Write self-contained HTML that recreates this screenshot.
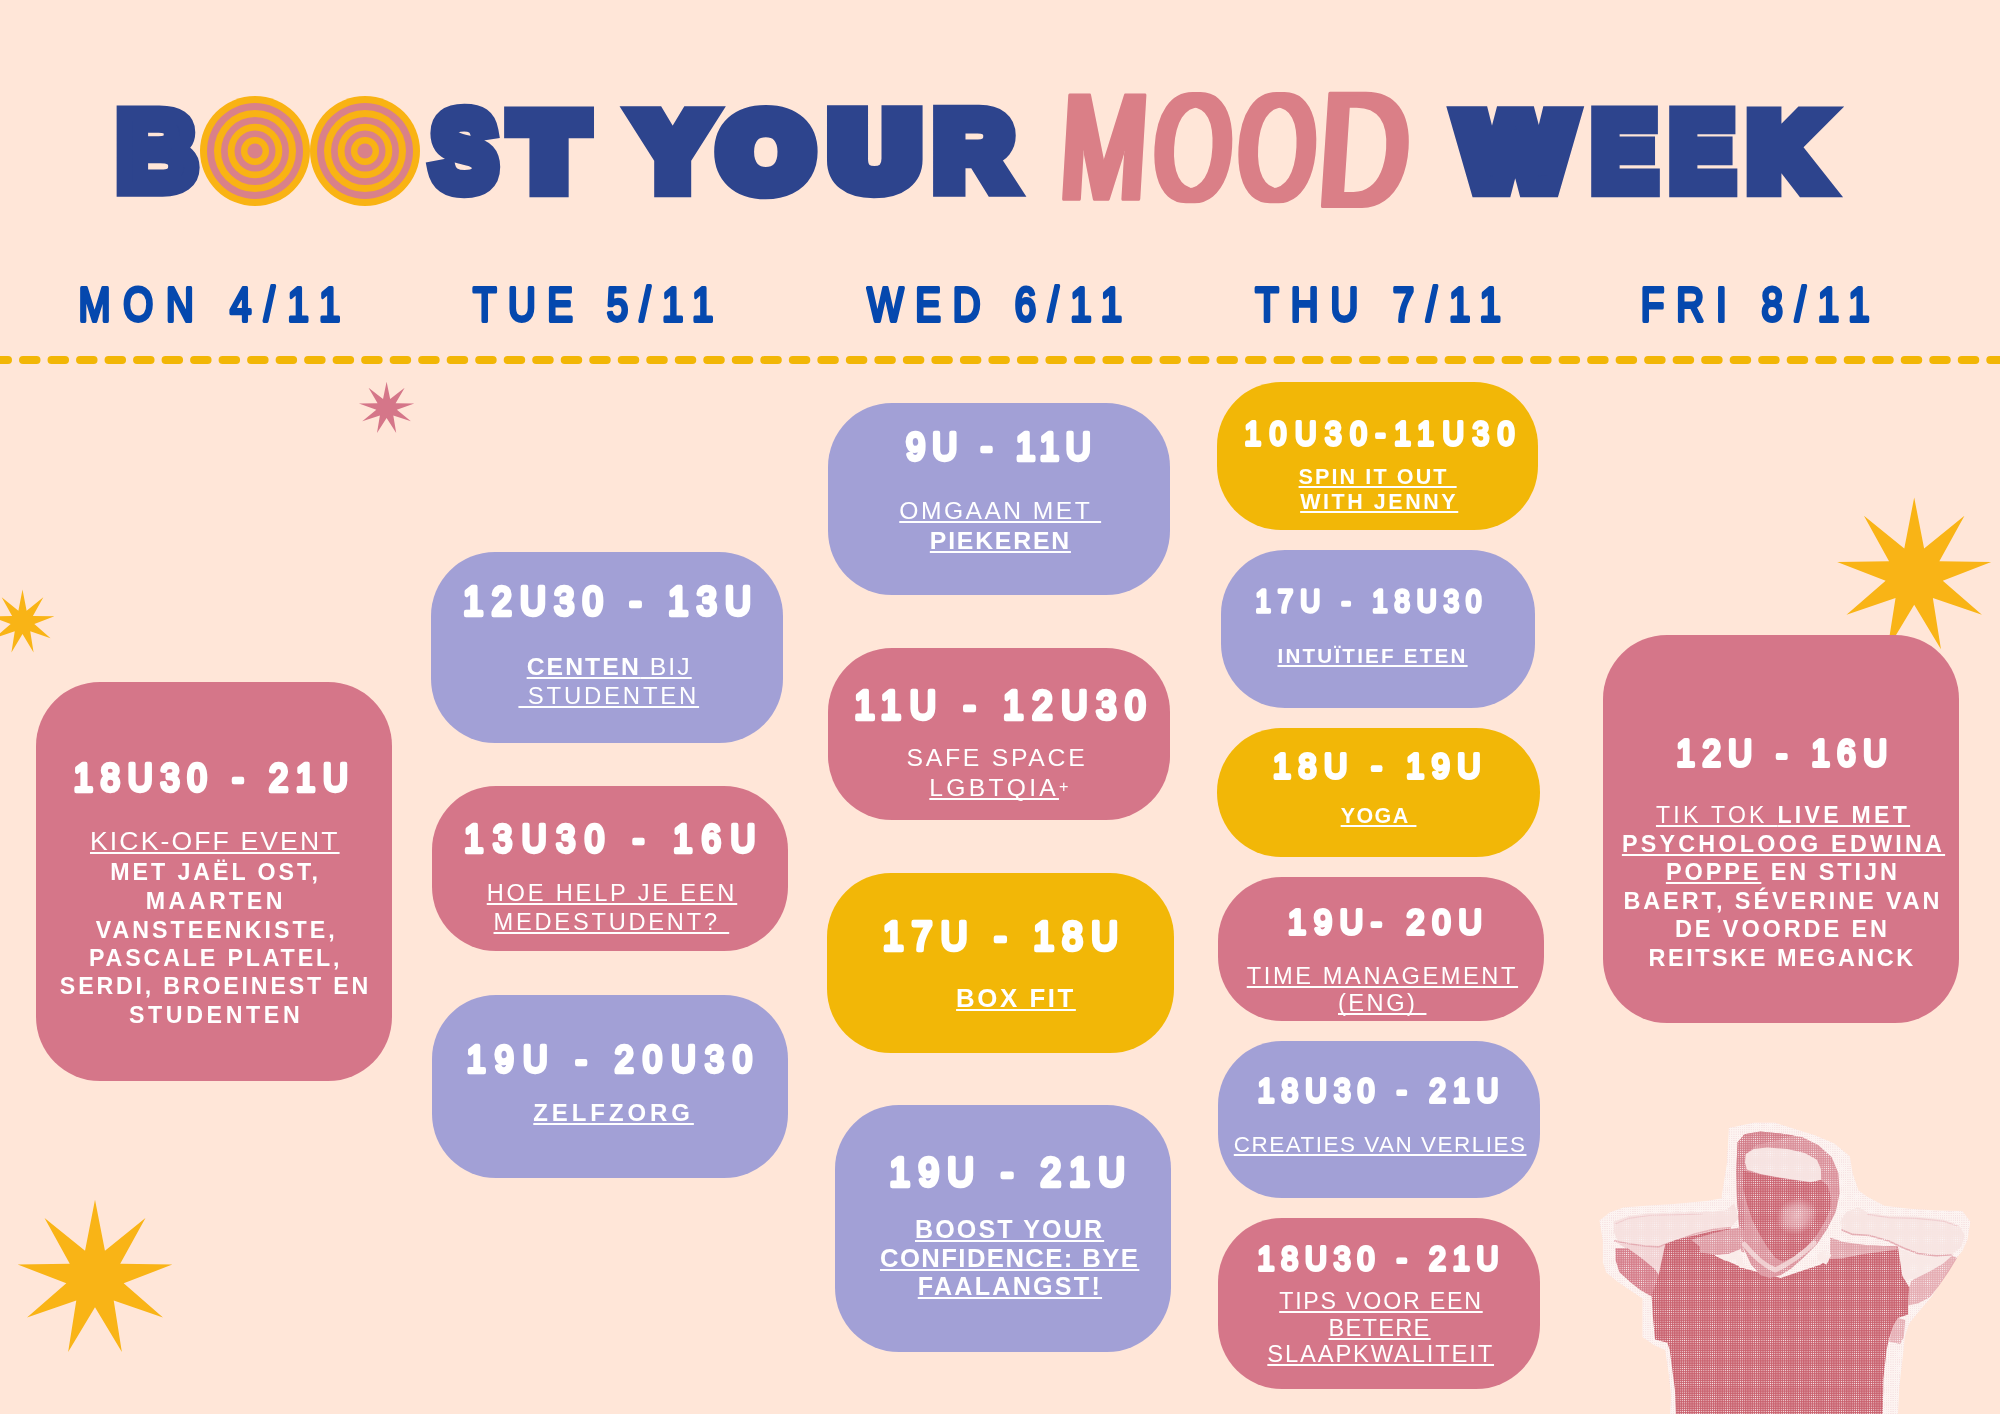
<!DOCTYPE html>
<html lang="nl"><head><meta charset="utf-8"><title>Boost Your Mood Week</title>
<style>
html,body{margin:0;padding:0}
body{width:2000px;height:1414px;overflow:hidden;background:#FFE6D8;font-family:'Liberation Sans',Arial,Helvetica,sans-serif}
#page{position:relative;width:2000px;height:1414px;overflow:hidden;background:#FFE6D8;opacity:.999}
svg.decor,svg.photo,svg.title,svg.days,svg.time{position:absolute;left:0;top:0;overflow:visible}
svg.time text{font-family:'Liberation Sans',Arial,sans-serif;font-weight:normal;fill:#fff;stroke:#fff;stroke-linejoin:round;stroke-linecap:round}
.card{position:absolute;margin:0;color:#fff}
.pink{background:#D57689}.purple{background:#A2A0D6}.yellow{background:#F2B707}
.ln{position:absolute;white-space:pre;line-height:1;font-weight:normal}
.ln b{font-weight:bold}
.ln u{text-decoration:underline;text-decoration-thickness:1.6px;text-underline-offset:2.4px;text-decoration-skip-ink:none}
</style></head><body>
<div id="page">
<svg class="decor" width="2000" height="1414" viewBox="0 0 2000 1414">
<line x1="-5.5" y1="360" x2="2010" y2="360" stroke="#F2B606" stroke-width="8" stroke-linecap="round" stroke-dasharray="13.5 15.011"/>
<polygon fill="#F9B416" points="1914.2,497.5 1924.12,548.44 1964.47,515.8 1939.33,561.19 1991.21,562.12 1942.77,580.74 1981.92,614.8 1932.85,597.92 1940.95,649.18 1914.2,604.71 1887.45,649.18 1895.55,597.92 1846.48,614.8 1885.63,580.74 1837.19,562.12 1889.07,561.19 1863.93,515.8 1904.28,548.44"/>
<polygon fill="#F9B416" points="95,1199.7 104.96,1250.83 145.46,1218.07 120.22,1263.64 172.31,1264.57 123.68,1283.26 162.98,1317.45 113.72,1300.51 121.85,1351.97 95,1307.32 68.15,1351.97 76.28,1300.51 27.02,1317.45 66.32,1283.26 17.69,1264.57 69.78,1263.64 44.54,1218.07 85.04,1250.83"/>
<polygon fill="#F9B416" points="22.5,589.6 26.61,610.7 43.33,597.18 32.91,615.99 54.41,616.37 34.34,624.09 50.56,638.2 30.23,631.21 33.58,652.45 22.5,634.02 11.42,652.45 14.77,631.21 -5.56,638.2 10.66,624.09 -9.41,616.37 12.09,615.99 1.67,597.18 18.39,610.7"/>
<polygon fill="#D57689" points="386.6,381.69 390.17,398.89 404.66,387.87 395.63,403.2 414.27,403.51 396.87,409.8 410.94,421.31 393.3,415.61 396.21,432.92 386.6,417.9 376.99,432.92 379.9,415.61 362.26,421.31 376.33,409.8 358.93,403.51 377.57,403.2 368.54,387.87 383.03,398.89"/>
</svg>
<svg class="title" width="2000" height="260" viewBox="0 0 2000 260" role="heading" aria-level="1" aria-label="BOOST YOUR MOOD WEEK">
<defs><filter id="brush" filterUnits="userSpaceOnUse" x="1040" y="70" width="400" height="160"><feMorphology operator="dilate" radius="4.2 0"/></filter></defs>
<g font-family="Liberation Sans, Arial, sans-serif" font-weight="bold" font-size="100" fill="#2D448D" stroke="#2D448D" stroke-linejoin="miter" stroke-miterlimit="3"><text transform="translate(117,189.33) scale(1.1067,1.0964)" stroke-width="14">B</text><text x="216" y="187" fill="#F9B313" stroke="none">O</text><text x="326" y="187" fill="#F9B313" stroke="none">O</text><text transform="translate(431.84,189.25) scale(0.9737,1.0941)" stroke-width="15">S</text><text transform="translate(514.25,186.78) scale(1.1392,1.0225)" stroke-width="20">T</text></g> <g font-family="Liberation Sans, Arial, sans-serif" font-weight="bold" font-size="100" fill="#2D448D" stroke="#2D448D" stroke-linejoin="miter" stroke-miterlimit="3"><text transform="translate(636.72,186.78) scale(1.0765,1.0225)" stroke-width="20">Y</text><text transform="translate(720.93,187.64) scale(1.1556,1.0330)" stroke-width="20">O</text><text transform="translate(831.77,187.37) scale(1.1938,1.0300)" stroke-width="20">U</text><text transform="translate(934.1,189.33) scale(1.1012,1.0964)" stroke-width="15">R</text></g> <g font-family="Liberation Sans, Arial, sans-serif" font-weight="normal" font-size="100" fill="#DA7F87" stroke="#DA7F87" stroke-width="2.3" stroke-linejoin="round" filter="url(#brush)"><text transform="translate(1058.9,199.49) scale(1.0134,1.5070) skewX(-5)">M</text><text transform="translate(1152.09,199.96) scale(0.9858,1.5205) skewX(-5)">O</text><text transform="translate(1236.09,199.96) scale(0.9858,1.5205) skewX(-5)">O</text><text transform="translate(1316.33,206.37) scale(1.2322,1.6338) skewX(-5)">D</text></g> <g font-family="Liberation Sans, Arial, sans-serif" font-weight="bold" font-size="100" fill="#2D448D" stroke="#2D448D" stroke-linejoin="miter" stroke-miterlimit="3"><text transform="translate(1460.95,186.78) scale(1.1500,1.0225)" stroke-width="20">W</text><text transform="translate(1591.96,189.33) scale(0.9648,1.0964)" stroke-width="15">E</text><text transform="translate(1669.96,189.33) scale(0.9577,1.0964)" stroke-width="15">E</text><text transform="translate(1750.03,186.78) scale(1.0104,1.0225)" stroke-width="20">K</text></g>
</svg>
<svg class="decor" width="2000" height="1414" viewBox="0 0 2000 1414">
<circle cx="255" cy="151" r="55" fill="#F9B313"/>
<circle cx="255" cy="151" r="48" fill="#D98189"/>
<circle cx="255" cy="151" r="41" fill="#F9B313"/>
<circle cx="255" cy="151" r="34" fill="#D98189"/>
<circle cx="255" cy="151" r="27.3" fill="#F9B313"/>
<circle cx="255" cy="151" r="20.5" fill="#D98189"/>
<circle cx="255" cy="151" r="14" fill="#F9B313"/>
<circle cx="255" cy="151" r="7.6" fill="#D98189"/>
<circle cx="365" cy="151" r="55" fill="#F9B313"/>
<circle cx="365" cy="151" r="48" fill="#D98189"/>
<circle cx="365" cy="151" r="41" fill="#F9B313"/>
<circle cx="365" cy="151" r="34" fill="#D98189"/>
<circle cx="365" cy="151" r="27.3" fill="#F9B313"/>
<circle cx="365" cy="151" r="20.5" fill="#D98189"/>
<circle cx="365" cy="151" r="14" fill="#F9B313"/>
<circle cx="365" cy="151" r="7.6" fill="#D98189"/>
</svg>
<svg class="days" width="2000" height="350" viewBox="0 0 2000 350">
<g font-family="Liberation Sans, Arial, sans-serif" font-weight="normal" fill="#0548AE" stroke="#0548AE" stroke-linejoin="round" stroke-linecap="round">
<text transform="translate(78.4,320.5) scale(0.8,1)" font-size="48.05" stroke-width="3.75" letter-spacing="16">MON 4/11</text>
<text transform="translate(472.9,320.5) scale(0.8,1)" font-size="48.05" stroke-width="3.75" letter-spacing="14.46">TUE 5/11</text>
<text transform="translate(867.25,320.5) scale(0.8,1)" font-size="48.05" stroke-width="3.75" letter-spacing="14.73">WED 6/11</text>
<text transform="translate(1255.2,320.5) scale(0.8,1)" font-size="48.05" stroke-width="3.75" letter-spacing="15">THU 7/11</text>
<text transform="translate(1640.7,320.5) scale(0.8,1)" font-size="48.05" stroke-width="3.75" letter-spacing="15.07">FRI 8/11</text>
</g></svg>
<section class="card pink" id="mon" style="left:35.8px;top:681.6px;width:356.2px;height:399px;border-radius:64px">
<svg class="time" width="356.2" height="399"><text transform="translate(37.65,109.4) scale(0.9,1)" font-size="38.27" stroke-width="4.4" letter-spacing="8.79">18U30 - 21U</text></svg>
<div class="ln" style="left:54.2px;top:146.55px;font-size:26.52px;letter-spacing:2.15px"><u>KICK-OFF EVENT</u></div>
<div class="ln" style="left:74.45px;top:179.9px;font-size:23.19px;letter-spacing:2.96px"><b>MET JAËL OST,</b></div>
<div class="ln" style="left:109.85px;top:208.5px;font-size:23.19px;letter-spacing:3.48px"><b>MAARTEN</b></div>
<div class="ln" style="left:59.9px;top:237.5px;font-size:23.19px;letter-spacing:3.05px"><b>VANSTEENKISTE,</b></div>
<div class="ln" style="left:53.2px;top:265.7px;font-size:23.19px;letter-spacing:2.86px"><b>PASCALE PLATEL,</b></div>
<div class="ln" style="left:24.05px;top:293.9px;font-size:23.19px;letter-spacing:2.82px"><b>SERDI, BROEINEST EN</b></div>
<div class="ln" style="left:93.2px;top:322.6px;font-size:23.19px;letter-spacing:3.62px"><b>STUDENTEN</b></div>
</section>
<section class="card purple" id="tue1" style="left:431.4px;top:551.8px;width:351.9px;height:191.2px;border-radius:64px">
<svg class="time" width="351.9" height="191.2"><text transform="translate(32.25,63.05) scale(0.9,1)" font-size="39.88" stroke-width="4.59" letter-spacing="9.37">12U30 - 13U</text></svg>
<div class="ln" style="left:95.25px;top:103.45px;font-size:24.78px;letter-spacing:2.06px"><u><b>CENTEN</b></u><u> BIJ</u></div>
<div class="ln" style="left:87.05px;top:132.25px;font-size:23.91px;letter-spacing:2.79px"><u> STUDENTEN</u></div>
</section>
<section class="card pink" id="tue2" style="left:431.9px;top:786.3px;width:356.4px;height:164.9px;border-radius:64px">
<svg class="time" width="356.4" height="164.9"><text transform="translate(32.3,65.55) scale(0.9,1)" font-size="38.15" stroke-width="4.39" letter-spacing="10.72">13U30 - 16U</text></svg>
<div class="ln" style="left:54.85px;top:95.75px;font-size:23.62px;letter-spacing:2.82px"><u>HOE HELP JE EEN</u></div>
<div class="ln" style="left:61.65px;top:124.55px;font-size:23.62px;letter-spacing:2.79px"><u>MEDESTUDENT? </u></div>
</section>
<section class="card purple" id="tue3" style="left:431.9px;top:994.8px;width:356.4px;height:183px;border-radius:64px">
<svg class="time" width="356.4" height="183"><text transform="translate(34.65,76.5) scale(0.9,1)" font-size="37.78" stroke-width="4.34" letter-spacing="10.29">19U - 20U30</text></svg>
<div class="ln" style="left:101.4px;top:105.95px;font-size:23.91px;letter-spacing:3.97px"><u><b>ZELFZORG</b></u></div>
</section>
<section class="card purple" id="wed1" style="left:827.7px;top:403px;width:342.6px;height:191.8px;border-radius:64px">
<svg class="time" width="342.6" height="191.8"><text transform="translate(77.95,56.55) scale(0.9,1)" font-size="38.4" stroke-width="4.42" letter-spacing="7.81">9U - 11U</text></svg>
<div class="ln" style="left:71.6px;top:96px;font-size:24.64px;letter-spacing:2.47px"><u>OMGAAN MET </u></div>
<div class="ln" style="left:102.15px;top:125.65px;font-size:24.78px;letter-spacing:1.81px"><u><b>PIEKEREN</b></u></div>
</section>
<section class="card pink" id="wed2" style="left:827.7px;top:648.3px;width:342.6px;height:171.7px;border-radius:64px">
<svg class="time" width="342.6" height="171.7"><text transform="translate(26.55,70.75) scale(0.9,1)" font-size="40.37" stroke-width="4.64" letter-spacing="9.73">11U - 12U30</text></svg>
<div class="ln" style="left:78.9px;top:97.25px;font-size:24.78px;letter-spacing:2.71px">SAFE SPACE</div>
<div class="ln" style="left:101.65px;top:127.7px;font-size:24.64px;letter-spacing:3.27px"><u>LGBTQIA</u><span style="font-size:.66em;letter-spacing:0;position:relative;top:-.22em">+</span></div>
</section>
<section class="card yellow" id="wed3" style="left:827.3px;top:872.6px;width:347px;height:180.4px;border-radius:64px">
<svg class="time" width="347" height="180.4"><text transform="translate(55.9,76.8) scale(0.9,1)" font-size="40.99" stroke-width="4.71" letter-spacing="9.28">17U - 18U</text></svg>
<div class="ln" style="left:128.8px;top:113.3px;font-size:25.8px;letter-spacing:2.57px"><u><b>BOX FIT</b></u></div>
</section>
<section class="card purple" id="wed4" style="left:834.5px;top:1105.3px;width:336.2px;height:247px;border-radius:64px">
<svg class="time" width="336.2" height="247"><text transform="translate(54.5,81.1) scale(0.9,1)" font-size="40.99" stroke-width="4.71" letter-spacing="9.35">19U - 21U</text></svg>
<div class="ln" style="left:80.5px;top:112.05px;font-size:25.07px;letter-spacing:2.11px"><u><b>BOOST YOUR</b></u></div>
<div class="ln" style="left:45.5px;top:140.35px;font-size:25.65px;letter-spacing:1.43px"><u><b>CONFIDENCE: BYE</b></u></div>
<div class="ln" style="left:83.25px;top:168.65px;font-size:25.07px;letter-spacing:2.28px"><u><b>FAALANGST!</b></u></div>
</section>
<section class="card yellow" id="thu1" style="left:1216.6px;top:381.7px;width:321.1px;height:148.1px;border-radius:64px">
<svg class="time" width="321.1" height="148.1"><text transform="translate(27.5,63.4) scale(0.9,1)" font-size="33.09" stroke-width="3.8" letter-spacing="9.63">10U30-11U30</text></svg>
<div class="ln" style="left:82px;top:84.25px;font-size:21.59px;letter-spacing:2.08px"><u><b>SPIN IT OUT </b></u></div>
<div class="ln" style="left:83.55px;top:110px;font-size:21.45px;letter-spacing:2.59px"><u><b>WITH JENNY</b></u></div>
</section>
<section class="card purple" id="thu2" style="left:1221.2px;top:550.3px;width:314px;height:157.4px;border-radius:64px">
<svg class="time" width="314" height="157.4"><text transform="translate(34.6,62.3) scale(0.9,1)" font-size="30.62" stroke-width="3.52" letter-spacing="7.72">17U - 18U30</text></svg>
<div class="ln" style="left:56.3px;top:96.1px;font-size:20.58px;letter-spacing:2.23px"><u><b>INTUÏTIEF ETEN</b></u></div>
</section>
<section class="card yellow" id="thu3" style="left:1216.6px;top:727.9px;width:323.6px;height:129px;border-radius:64px">
<svg class="time" width="323.6" height="129"><text transform="translate(55.9,49.8) scale(0.9,1)" font-size="35.8" stroke-width="4.12" letter-spacing="8.44">18U - 19U</text></svg>
<div class="ln" style="left:124.05px;top:78.5px;font-size:21.45px;letter-spacing:1.5px"><u><b>YOGA </b></u></div>
</section>
<section class="card pink" id="thu4" style="left:1217.5px;top:876.7px;width:326px;height:143.9px;border-radius:64px">
<svg class="time" width="326" height="143.9"><text transform="translate(70.05,57.35) scale(0.9,1)" font-size="35.93" stroke-width="4.13" letter-spacing="8.78">19U- 20U</text></svg>
<div class="ln" style="left:29.25px;top:87.95px;font-size:23.62px;letter-spacing:2.61px"><u>TIME MANAGEMENT</u></div>
<div class="ln" style="left:120.5px;top:115.35px;font-size:23.62px;letter-spacing:2.5px"><u>(ENG) </u></div>
</section>
<section class="card purple" id="thu5" style="left:1217.5px;top:1040.9px;width:322.1px;height:156.7px;border-radius:64px">
<svg class="time" width="322.1" height="156.7"><text transform="translate(39.85,61.05) scale(0.9,1)" font-size="33.21" stroke-width="3.82" letter-spacing="7.89">18U30 - 21U</text></svg>
<div class="ln" style="left:16.3px;top:93.35px;font-size:22.46px;letter-spacing:1.51px"><u>CREATIES VAN VERLIES</u></div>
</section>
<section class="card pink" id="thu6" style="left:1217.5px;top:1217.9px;width:322.1px;height:171.1px;border-radius:64px">
<svg class="time" width="322.1" height="171.1"><text transform="translate(39.5,52.25) scale(0.9,1)" font-size="33.7" stroke-width="3.88" letter-spacing="7.67">18U30 - 21U</text></svg>
<div class="ln" style="left:61.7px;top:72.1px;font-size:23.19px;letter-spacing:1.78px"><u>TIPS VOOR EEN</u></div>
<div class="ln" style="left:111px;top:98.75px;font-size:23.62px;letter-spacing:1.28px"><u>BETERE</u></div>
<div class="ln" style="left:49.85px;top:124.2px;font-size:23.77px;letter-spacing:1.82px"><u>SLAAPKWALITEIT</u></div>
</section>
<section class="card pink" id="fri" style="left:1602.6px;top:634.5px;width:356.8px;height:388.1px;border-radius:64px">
<svg class="time" width="356.8" height="388.1"><text transform="translate(73.6,130.7) scale(0.9,1)" font-size="36.54" stroke-width="4.2" letter-spacing="8.4">12U - 16U</text></svg>
<div class="ln" style="left:53.35px;top:169.65px;font-size:23.04px;letter-spacing:3.3px"><u>TIK TOK </u><u><b>LIVE MET</b></u></div>
<div class="ln" style="left:19.3px;top:198.25px;font-size:23.33px;letter-spacing:3.23px"><u><b>PSYCHOLOOG EDWINA</b></u></div>
<div class="ln" style="left:63.3px;top:226.7px;font-size:23.48px;letter-spacing:2.92px"><u><b>POPPE</b></u><b> EN STIJN</b></div>
<div class="ln" style="left:20.85px;top:255.4px;font-size:23.48px;letter-spacing:2.88px"><b>BAERT, SÉVERINE VAN</b></div>
<div class="ln" style="left:72.4px;top:283.5px;font-size:23.48px;letter-spacing:2.91px"><b>DE VOORDE EN</b></div>
<div class="ln" style="left:46px;top:312.1px;font-size:23.48px;letter-spacing:2.51px"><b>REITSKE MEGANCK</b></div>
</section>
<svg class="photo" width="2000" height="1414" viewBox="0 0 2000 1414">
<defs>
<pattern id="ht" width="2.15" height="2.15" patternUnits="userSpaceOnUse"><circle cx="1.07" cy="1.07" r=".52" fill="#fff" fill-opacity=".9"/></pattern>
<pattern id="ht2" width="2.15" height="2.15" patternUnits="userSpaceOnUse"><circle cx="1.07" cy="1.07" r=".38" fill="#D98A94" fill-opacity=".7"/></pattern>
<radialGradient id="tg"><stop offset="0" stop-color="#E6AFB5"/><stop offset=".55" stop-color="#DC959E"/><stop offset="1" stop-color="#CA6370"/></radialGradient>
<clipPath id="pc"><polygon points="1599.5,1220.6 1609.7,1212.6 1623.3,1207.5 1645.9,1205.8 1674.2,1204.1 1708.2,1200.7 1722.9,1197.9 1721.5,1197.3 1726.9,1163.7 1728.9,1128.1 1753.7,1122.8 1775.2,1122.8 1794.0,1128.8 1815.5,1135.5 1834.3,1143.6 1849.8,1156.3 1852.5,1173.1 1858.5,1190.6 1867.3,1196.8 1884.3,1205.8 1909.2,1208.7 1937.5,1210.4 1962.4,1210.9 1970.3,1221.7 1967.5,1239.8 1962.4,1251.1 1954.5,1260.2 1943.2,1278.3 1931.8,1296.4 1918.3,1312.2 1909.2,1323.5 1904.7,1337.1 1903.6,1350.0 1902.7,1357.2 1899.5,1385.1 1897.8,1416.3 1670.0,1416.3 1671.2,1395.9 1668.5,1372.2 1665.2,1350.0 1653.8,1345.0 1642.5,1337.1 1642.5,1314.5 1642.5,1298.6 1632.3,1291.8 1617.6,1281.7 1606.3,1272.6 1602.9,1262.4 1602.9,1240.9"/></clipPath>
</defs>
<polygon points="1599.5,1220.6 1609.7,1212.6 1623.3,1207.5 1645.9,1205.8 1674.2,1204.1 1708.2,1200.7 1722.9,1197.9 1721.5,1197.3 1726.9,1163.7 1728.9,1128.1 1753.7,1122.8 1775.2,1122.8 1794.0,1128.8 1815.5,1135.5 1834.3,1143.6 1849.8,1156.3 1852.5,1173.1 1858.5,1190.6 1867.3,1196.8 1884.3,1205.8 1909.2,1208.7 1937.5,1210.4 1962.4,1210.9 1970.3,1221.7 1967.5,1239.8 1962.4,1251.1 1954.5,1260.2 1943.2,1278.3 1931.8,1296.4 1918.3,1312.2 1909.2,1323.5 1904.7,1337.1 1903.6,1350.0 1902.7,1357.2 1899.5,1385.1 1897.8,1416.3 1670.0,1416.3 1671.2,1395.9 1668.5,1372.2 1665.2,1350.0 1653.8,1345.0 1642.5,1337.1 1642.5,1314.5 1642.5,1298.6 1632.3,1291.8 1617.6,1281.7 1606.3,1272.6 1602.9,1262.4 1602.9,1240.9" fill="#FDF4F1"/>
<polygon points="1599.5,1220.6 1609.7,1212.6 1623.3,1207.5 1645.9,1205.8 1674.2,1204.1 1708.2,1200.7 1722.9,1197.9 1721.5,1197.3 1726.9,1163.7 1728.9,1128.1 1753.7,1122.8 1775.2,1122.8 1794.0,1128.8 1815.5,1135.5 1834.3,1143.6 1849.8,1156.3 1852.5,1173.1 1858.5,1190.6 1867.3,1196.8 1884.3,1205.8 1909.2,1208.7 1937.5,1210.4 1962.4,1210.9 1970.3,1221.7 1967.5,1239.8 1962.4,1251.1 1954.5,1260.2 1943.2,1278.3 1931.8,1296.4 1918.3,1312.2 1909.2,1323.5 1904.7,1337.1 1903.6,1350.0 1902.7,1357.2 1899.5,1385.1 1897.8,1416.3 1670.0,1416.3 1671.2,1395.9 1668.5,1372.2 1665.2,1350.0 1653.8,1345.0 1642.5,1337.1 1642.5,1314.5 1642.5,1298.6 1632.3,1291.8 1617.6,1281.7 1606.3,1272.6 1602.9,1262.4 1602.9,1240.9" fill="url(#ht2)"/>
<polygon points="1613.1,1221.7 1628.9,1216.0 1649.3,1213.2 1674.2,1212.6 1702.5,1212.1 1725.1,1210.4 1734.2,1203.6 1738.7,1218.3 1730.8,1227.3 1713.8,1229.0 1694.6,1233.6 1676.5,1238.7 1667.4,1243.2 1658.4,1246.6 1644.8,1245.4 1628.9,1243.2 1617.6,1240.9 1614.2,1233.0" fill="#F6E0DE"/>
<polygon points="1617.6,1243.2 1644.8,1246.0 1664.6,1246.0 1662.3,1260.2 1658.4,1274.3 1649.3,1268.1 1638.0,1257.9 1626.7,1248.8" fill="#F1D0D1"/>
<polygon points="1615.4,1248.3 1627.8,1248.3 1641.4,1257.9 1655.0,1269.2 1660.1,1277.1 1656.1,1283.9 1651.6,1296.4 1640.3,1290.1 1628.9,1281.1 1619.3,1272.0 1615.6,1260.2" fill="#D57C89"/>
<polygon points="1840.2,1221.7 1845.8,1212.6 1858.3,1207.0 1867.3,1212.6 1888.8,1216.0 1916.0,1216.6 1943.2,1219.4 1959.0,1225.1 1964.7,1235.3 1961.3,1246.6 1952.2,1254.5 1936.4,1255.6 1918.3,1253.4 1903.6,1247.7 1888.8,1240.9 1869.6,1235.3 1852.6,1234.1 1841.3,1229.6" fill="#F7E4E1"/>
<polygon points="1897.9,1248.8 1918.3,1254.5 1937.5,1256.8 1952.2,1255.6 1943.2,1263.6 1929.6,1271.5 1916.0,1278.3 1904.7,1280.5 1900.2,1263.6" fill="#F8E8E5"/>
<polygon points="1952.2,1255.6 1957.0,1257.9 1948.8,1271.5 1938.6,1286.2 1929.6,1297.5 1918.3,1303.2 1908.1,1305.4 1909.2,1287.3 1911.5,1280.5 1929.6,1271.5 1943.2,1263.6" fill="#E5ACB2"/>
<polygon points="1897.9,1317.9 1905.2,1320.1 1903.8,1337.1 1900.2,1344.1 1888.8,1341.6 1893.4,1325.8" fill="#E5ACB2"/>
<polyline points="1614.2,1240.9 1628.9,1243.7 1644.8,1246.0 1658.4,1246.9 1667.4,1243.4 1694.6,1233.9 1713.8,1229.4 1730.8,1227.6" fill="none" stroke="#E3A9AF" stroke-width="1.6"/>
<polyline points="1841.3,1229.8 1852.6,1234.4 1869.6,1235.5 1888.8,1241.1 1903.6,1247.9 1918.3,1253.6 1936.4,1255.9 1952.2,1254.7" fill="none" stroke="#E3A9AF" stroke-width="1.6"/>
<polyline points="1615.4,1223.9 1628.9,1218.3 1649.3,1215.5 1674.2,1214.9 1702.5,1214.0" fill="none" stroke="#EFCBCD" stroke-width="1.2"/>
<polyline points="1867.3,1214.3 1888.8,1217.7 1916.0,1218.3 1943.2,1221.1 1957.9,1226.2" fill="none" stroke="#EFCBCD" stroke-width="1.2"/>
<polygon points="1665.2,1244.3 1658.4,1276.0 1651.6,1295.2 1652.7,1314.5 1655.0,1339.4 1667.4,1342.8 1669.7,1350.0 1674.9,1389.4 1676.0,1416.3 1882.7,1416.3 1883.4,1378.7 1886.6,1350.0 1888.8,1339.4 1893.4,1325.8 1897.9,1317.9 1908.1,1314.5 1908.1,1305.4 1909.2,1287.3 1902.4,1276.0 1897.9,1246.6 1869.6,1245.4 1847.0,1248.8 1831.0,1255.1 1820.9,1264.5 1780.6,1277.9 1744.3,1268.5 1714.9,1255.6 1730.8,1228.5 1713.8,1230.7 1694.6,1235.3 1676.5,1239.8" fill="#C9616E"/>
<polygon points="1691.2,1239.8 1713.8,1233.0 1730.8,1229.0 1741.0,1227.3 1742.1,1248.8 1728.5,1253.9 1714.9,1255.1 1702.5,1248.8" fill="#DD98A1"/>
<polygon points="1830.0,1237.5 1843.6,1242.1 1869.6,1245.4 1896.2,1246.6 1897.9,1249.4 1863.9,1253.9 1841.3,1258.5 1830.0,1259.0" fill="#E0A2A9"/>
<polygon points="1700.0,1239.6 1720.2,1236.9 1739.0,1231.6 1744.3,1252.4 1734.9,1249.7 1718.8,1255.1 1700.0,1252.4" fill="#DD98A1"/>
<polygon points="1714.9,1255.6 1728.5,1254.5 1741.0,1248.8 1742.7,1262.4 1747.2,1267.5 1739.8,1268.1 1735.3,1259.6 1725.1,1260.7" fill="#FAEBE8"/>
<polygon points="1737.6,1142.2 1744.3,1134.2 1760.5,1131.5 1780.6,1133.5 1802.1,1136.9 1818.2,1144.9 1831.6,1157.0 1838.4,1173.1 1839.7,1193.3 1835.7,1212.1 1827.6,1228.2 1816.9,1244.3 1803.4,1257.8 1791.3,1268.5 1780.6,1275.2 1769.9,1277.9 1760.5,1275.2 1751.0,1264.5 1743.0,1247.0 1739.0,1225.5 1736.9,1197.3 1736.3,1170.5" fill="#DA8F99"/>
<polygon points="1737.6,1142.2 1744.3,1134.2 1760.5,1131.5 1780.6,1133.5 1794.0,1135.5 1775.2,1140.9 1756.4,1144.9 1745.7,1154.3 1743.7,1190.6 1744.3,1230.9 1739.0,1225.5 1736.9,1197.3 1736.3,1170.5" fill="#D27C88"/>
<polygon points="1816.9,1255.1 1824.9,1249.7 1831.4,1255.1 1826.5,1264.8 1818.2,1260.5" fill="#FAEBE8"/>
<path d="M1744.3,1244.3 Q1760.5,1264.5 1775.2,1269.9 Q1794.0,1261.8 1814.2,1243.0" fill="none" stroke="#EEC9CB" stroke-width="5" stroke-linecap="round"/>
<polygon points="1745.7,1154.3 1753.7,1149.0 1767.2,1147.6 1787.3,1149.0 1804.8,1153.0 1816.9,1159.7 1820.9,1169.1 1821.2,1180.1 1810.2,1182.1 1792.7,1179.5 1775.2,1176.8 1760.5,1174.1 1747.0,1169.4 1745.0,1162.4" fill="#F6E2E0"/>
<polygon points="1743.0,1170.5 1760.5,1174.5 1775.2,1177.2 1792.7,1179.9 1810.2,1182.5 1820.9,1179.9 1827.6,1185.2 1831.0,1197.3 1830.3,1209.4 1824.9,1221.5 1816.9,1234.9 1806.1,1247.0 1794.0,1256.4 1783.3,1261.8 1775.2,1257.8 1767.2,1247.0 1759.1,1233.6 1752.4,1220.2 1747.0,1204.0 1743.0,1187.9" fill="#CA6370"/>
<ellipse cx="1796.7" cy="1216.1" rx="21" ry="18" fill="url(#tg)" transform="rotate(-25 1796.7 1216.1)"/>
<polygon points="1599.5,1220.6 1609.7,1212.6 1623.3,1207.5 1645.9,1205.8 1674.2,1204.1 1708.2,1200.7 1722.9,1197.9 1721.5,1197.3 1726.9,1163.7 1728.9,1128.1 1753.7,1122.8 1775.2,1122.8 1794.0,1128.8 1815.5,1135.5 1834.3,1143.6 1849.8,1156.3 1852.5,1173.1 1858.5,1190.6 1867.3,1196.8 1884.3,1205.8 1909.2,1208.7 1937.5,1210.4 1962.4,1210.9 1970.3,1221.7 1967.5,1239.8 1962.4,1251.1 1954.5,1260.2 1943.2,1278.3 1931.8,1296.4 1918.3,1312.2 1909.2,1323.5 1904.7,1337.1 1903.6,1350.0 1902.7,1357.2 1899.5,1385.1 1897.8,1416.3 1670.0,1416.3 1671.2,1395.9 1668.5,1372.2 1665.2,1350.0 1653.8,1345.0 1642.5,1337.1 1642.5,1314.5 1642.5,1298.6 1632.3,1291.8 1617.6,1281.7 1606.3,1272.6 1602.9,1262.4 1602.9,1240.9" fill="url(#ht2)" opacity=".75"/>
<g clip-path="url(#pc)"><rect x="1590" y="1110" width="400" height="310" fill="url(#ht)"/></g>
</svg>
</div>
</body></html>
